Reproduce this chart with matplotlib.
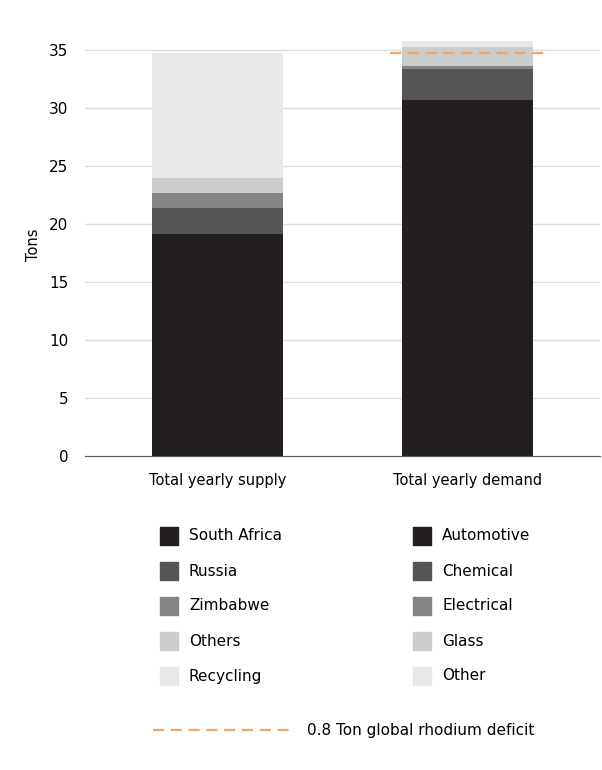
import matplotlib
matplotlib.use("Agg")
import matplotlib.pyplot as plt
from matplotlib.patches import Rectangle
from matplotlib.lines import Line2D

categories = ["Total yearly supply", "Total yearly demand"]
supply_labels = ["South Africa", "Russia", "Zimbabwe", "Others", "Recycling"]
supply_values = [19.14, 2.21, 1.32, 1.27, 10.8]
demand_labels = ["Automotive", "Chemical", "Electrical", "Glass", "Other"]
demand_values = [30.7, 2.66, 0.26, 1.6, 0.55]
deficit_level = 34.74
colors = ["#231f20", "#555555", "#858585", "#cccccc", "#e8e8e8"]
yticks = [0, 5, 10, 15, 20, 25, 30, 35]

W, H = 602, 770
fig = plt.figure(figsize=(W/100, H/100), dpi=100)
ax = fig.add_axes([85/W, 1-456/H, 515/W, (456-32.6)/H])

for xi, vals in enumerate([supply_values, demand_values]):
    b = 0
    for v, c in zip(vals, colors):
        ax.bar(xi, v, bottom=b, width=0.524, color=c, edgecolor=c, linewidth=0, zorder=2)
        b += v
ax.hlines(deficit_level, 1-0.31, 1+0.31, colors="#e8a96a", linestyles=(0, (5, 3)), linewidth=1.6, zorder=3)

ax.set_xlim(-0.53, 1.53)
ax.set_ylim(0, 36.5)
ax.set_yticks(yticks)
ax.set_yticklabels([str(t) for t in yticks], fontsize=11)
ax.yaxis.grid(True, color="#dddddd", linewidth=1, zorder=0)
ax.set_axisbelow(True)
ax.set_xticks([0, 1])
ax.set_xticklabels(categories, fontsize=10.5)
ax.tick_params(axis="both", length=0, pad=12)
for s in ["top", "right", "left"]:
    ax.spines[s].set_visible(False)
ax.spines["bottom"].set_color("#555555")
ax.set_ylabel("Tons", fontsize=10.5, labelpad=6)

ys = [536, 571, 606, 641, 676]
for col_x, labels in [(160, supply_labels), (413, demand_labels)]:
    for y, lab, c in zip(ys, labels, colors):
        fig.patches.append(Rectangle((col_x/W, 1-(y+9)/H), 18/W, 18/H, transform=fig.transFigure, color=c))
        fig.text((col_x+29)/W, 1-y/H, lab, fontsize=11, va="center", ha="left")
fig.add_artist(Line2D([153/W, 290/W], [1-730/H, 1-730/H], color="#e8a96a", linestyle=(0, (5, 3)), linewidth=1.6))
fig.text(307/W, 1-730/H, "0.8 Ton global rhodium deficit", fontsize=11, va="center", ha="left")

fig.savefig("out.png", dpi=100)
